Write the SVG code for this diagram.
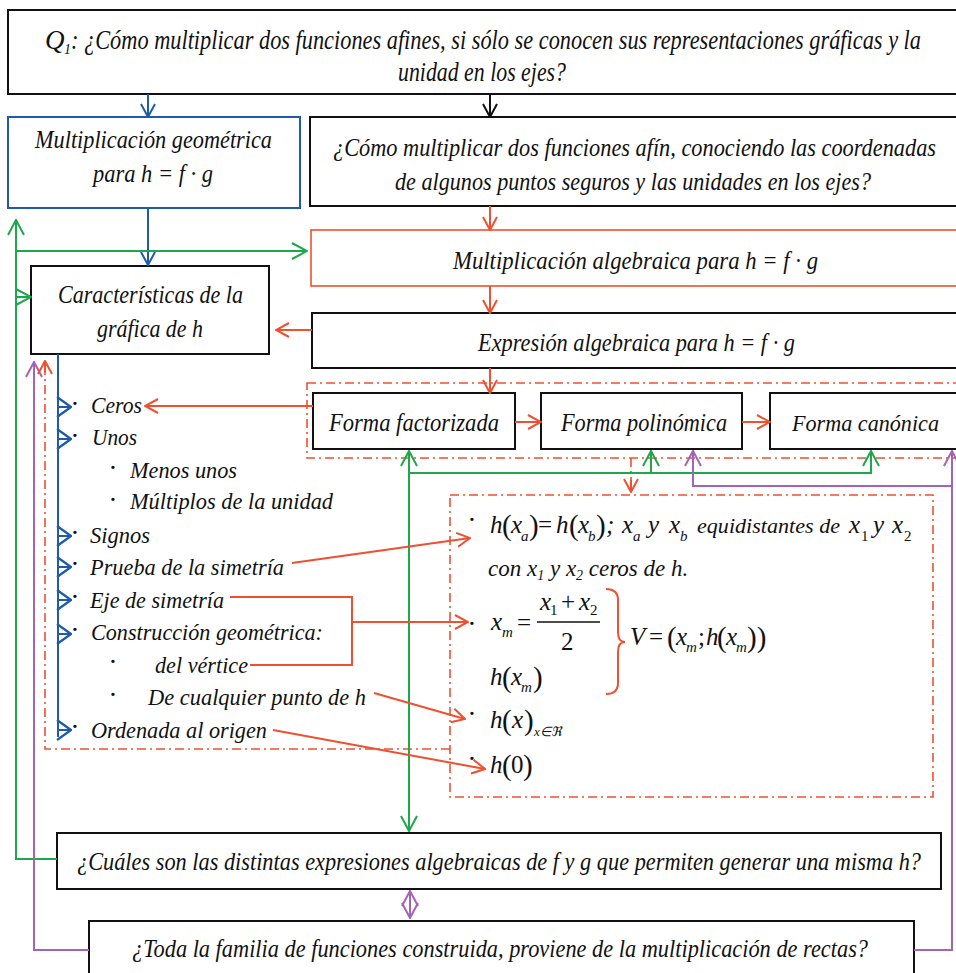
<svg xmlns="http://www.w3.org/2000/svg" width="956" height="973" viewBox="0 0 956 973" font-family="Liberation Serif, serif">
<style>
.t{font-family:'Liberation Serif',serif;font-style:italic;font-size:26px;fill:#111}
.l{font-size:24px}
.m{font-family:'Liberation Serif',serif;font-style:italic;font-size:25px;fill:#111}
.u{font-style:normal}
.s{font-size:15px}
.pa{font-style:normal;font-size:29px}
.bu{font-family:'Liberation Serif',serif;font-size:28px;fill:#111;text-anchor:middle}
.box{fill:#fff;stroke:#111;stroke-width:2}
.c{fill:none;stroke-width:2}
.r{stroke:#ee5030}.g{stroke:#1ca84b}.b{stroke:#1f5bab}.p{stroke:#a464b4}.k{stroke:#111}
.dd{stroke-dasharray:9 4 2 4;stroke-width:1.6}
</style>
<defs>
<marker id="aK" viewBox="0 0 16 16" refX="15" refY="8" markerWidth="16" markerHeight="16" orient="auto-start-reverse" markerUnits="userSpaceOnUse"><path d="M2,1 L15,8 L2,15" fill="none" stroke="#111" stroke-width="2"/></marker>
<marker id="aB" viewBox="0 0 16 16" refX="15" refY="8" markerWidth="16" markerHeight="16" orient="auto-start-reverse" markerUnits="userSpaceOnUse"><path d="M2,1 L15,8 L2,15" fill="none" stroke="#1f5bab" stroke-width="2"/></marker>
<marker id="aB2" viewBox="0 0 16 22" refX="15" refY="11" markerWidth="16" markerHeight="22" orient="auto" markerUnits="userSpaceOnUse"><path d="M1,1 L15,11 L1,21" fill="none" stroke="#1f5bab" stroke-width="2.2"/></marker>
<marker id="aR" viewBox="0 0 16 16" refX="15" refY="8" markerWidth="16" markerHeight="16" orient="auto-start-reverse" markerUnits="userSpaceOnUse"><path d="M2,1 L15,8 L2,15" fill="none" stroke="#ee5030" stroke-width="2"/></marker>
<marker id="aG" viewBox="0 0 18 18" refX="17" refY="9" markerWidth="18" markerHeight="18" orient="auto-start-reverse" markerUnits="userSpaceOnUse"><path d="M2,1 L17,9 L2,17" fill="none" stroke="#1ca84b" stroke-width="2"/></marker>
<marker id="aP" viewBox="0 0 18 18" refX="17" refY="9" markerWidth="18" markerHeight="18" orient="auto-start-reverse" markerUnits="userSpaceOnUse"><path d="M2,1 L17,9 L2,17" fill="none" stroke="#a464b4" stroke-width="2"/></marker>
</defs>
<rect width="956" height="973" fill="#fff"/>

<g id="q1">
<rect class="box" x="8" y="10" width="960" height="84"/>
<text class="t" x="45" y="49" style="font-size:27px">Q</text>
<text class="t" x="64" y="54" style="font-size:14px">1</text>
<text class="t" x="71" y="49" style="font-size:27px" textLength="850" lengthAdjust="spacingAndGlyphs">: ¿Cómo multiplicar dos funciones afines, si sólo se conocen sus representaciones gráficas y la</text>
<text class="t" x="398" y="81" style="font-size:27px" textLength="168" lengthAdjust="spacingAndGlyphs">unidad en los ejes?</text>
</g>

<g id="geo">
<rect x="8" y="117" width="292" height="91" fill="#fff" stroke="#1f5bab" stroke-width="2"/>
<text class="t" x="35" y="148" textLength="237" lengthAdjust="spacingAndGlyphs">Multiplicación geométrica</text>
<text class="t" x="93" y="182" textLength="120" lengthAdjust="spacingAndGlyphs">para h = f · g</text>
</g>

<g id="q2">
<rect class="box" x="310" y="117" width="660" height="89"/>
<text class="t" x="333" y="156" textLength="603" lengthAdjust="spacingAndGlyphs">¿Cómo multiplicar dos funciones afín, conociendo las coordenadas</text>
<text class="t" x="395" y="190" textLength="476" lengthAdjust="spacingAndGlyphs">de algunos puntos seguros y las unidades en los ejes?</text>
</g>

<g id="alg">
<rect x="311" y="230" width="660" height="56" fill="#fff" stroke="#ee5030" stroke-width="1.6"/>
<text class="t" x="453" y="269" textLength="365" lengthAdjust="spacingAndGlyphs">Multiplicación algebraica para  h = f · g</text>
</g>

<g id="car">
<rect class="box" x="31" y="266" width="238" height="88"/>
<text class="t" x="58" y="303" textLength="185" lengthAdjust="spacingAndGlyphs">Características de la</text>
<text class="t" x="97" y="337" textLength="106" lengthAdjust="spacingAndGlyphs">gráfica de h</text>
</g>

<g id="exp">
<rect class="box" x="312" y="313" width="660" height="55"/>
<text class="t" x="478" y="351" textLength="317" lengthAdjust="spacingAndGlyphs">Expresión algebraica para h = f · g</text>
</g>

<g id="formas">
<rect x="307" y="383" width="660" height="75" fill="none" class="r dd"/>
<g id="factorizada">
<rect class="box" x="313" y="393" width="202" height="56"/>
<text class="t" x="329" y="431" textLength="170" lengthAdjust="spacingAndGlyphs">Forma factorizada</text>
</g>
<g id="polinomica">
<rect class="box" x="541" y="393" width="201" height="56"/>
<text class="t" x="561" y="431" textLength="166" lengthAdjust="spacingAndGlyphs">Forma polinómica</text>
</g>
<g id="canonica">
<rect class="box" x="770" y="393" width="200" height="56"/>
<text class="t" x="792" y="431" style="font-size:24px" textLength="147" lengthAdjust="spacingAndGlyphs">Forma canónica</text>
</g>
</g>

<g id="lista">
<text class="bu" x="75" y="413">·</text><text class="t l" x="91" y="413" textLength="51" lengthAdjust="spacingAndGlyphs">Ceros</text>
<text class="bu" x="75" y="445">·</text><text class="t l" x="92" y="445" textLength="45" lengthAdjust="spacingAndGlyphs">Unos</text>
<text class="bu" x="113" y="477">·</text><text class="t l" x="130" y="478" textLength="107" lengthAdjust="spacingAndGlyphs">Menos unos</text>
<text class="bu" x="113" y="509">·</text><text class="t l" x="130" y="509" textLength="203" lengthAdjust="spacingAndGlyphs">Múltiplos de la unidad</text>
<text class="bu" x="75" y="542">·</text><text class="t l" x="90" y="543" textLength="60" lengthAdjust="spacingAndGlyphs">Signos</text>
<text class="bu" x="75" y="573">·</text><text class="t l" x="90" y="575" textLength="194" lengthAdjust="spacingAndGlyphs">Prueba de la simetría</text>
<text class="bu" x="75" y="606">·</text><text class="t l" x="90" y="608" textLength="134" lengthAdjust="spacingAndGlyphs">Eje de simetría</text>
<text class="bu" x="75" y="639">·</text><text class="t l" x="91" y="640" textLength="232" lengthAdjust="spacingAndGlyphs">Construcción geométrica:</text>
<text class="bu" x="113" y="671">·</text><text class="t l" x="155" y="673" textLength="93" lengthAdjust="spacingAndGlyphs">del vértice</text>
<text class="bu" x="113" y="704">·</text><text class="t l" x="148" y="705" textLength="218" lengthAdjust="spacingAndGlyphs">De cualquier punto de h</text>
<text class="bu" x="75" y="736">·</text><text class="t l" x="91" y="738" textLength="176" lengthAdjust="spacingAndGlyphs">Ordenada al origen</text>
</g>

<g id="math">
<rect x="450" y="495" width="483" height="302" fill="none" class="r dd"/>
<text class="bu" x="472" y="529">·</text>
<text class="m" x="490" y="533">h</text>
<text class="m pa" x="502" y="535">(</text>
<text class="m" x="511" y="533">x</text>
<text class="m s" x="521" y="541">a</text>
<text class="m pa" x="529" y="535">)</text>
<text class="m u" x="538" y="533">=</text>
<text class="m" x="556" y="533">h</text>
<text class="m pa" x="569" y="535">(</text>
<text class="m" x="578" y="533">x</text>
<text class="m s" x="588" y="541">b</text>
<text class="m pa" x="596" y="535">)</text>
<text class="m" x="606" y="533">;</text>
<text class="m" x="622" y="533">x</text>
<text class="m s" x="633" y="541">a</text>
<text class="m" x="648" y="533">y</text>
<text class="m" x="669" y="533">x</text>
<text class="m s" x="680" y="541">b</text>
<text class="t" x="697" y="533" style="font-size:22px" textLength="143" lengthAdjust="spacingAndGlyphs">equidistantes de</text>
<text class="m" x="849" y="533">x</text>
<text class="m u s" x="861" y="541">1</text>
<text class="m" x="873" y="533">y</text>
<text class="m" x="892" y="533">x</text>
<text class="m u s" x="904" y="541">2</text>
<text class="t" x="488" y="576" style="font-size:23px">con x<tspan style="font-size:14px" dy="4">1</tspan><tspan dy="-4"> y x</tspan><tspan style="font-size:14px" dy="4">2</tspan><tspan dy="-4"> ceros de h.</tspan></text>

<text class="bu" x="472" y="633">·</text>
<text class="m" x="491" y="630">x</text>
<text class="m s" x="502" y="637">m</text>
<text class="m u" x="517" y="631">=</text>
<text class="m" x="540" y="610">x</text>
<text class="m u s" x="550" y="615">1</text>
<text class="m u" x="561" y="610">+</text>
<text class="m" x="579" y="610">x</text>
<text class="m u s" x="590" y="615">2</text>
<line x1="537" y1="622" x2="600" y2="622" stroke="#111" stroke-width="1.5"/>
<text class="m u" x="561" y="650">2</text>
<path d="M606,589 Q618,589 618,600 L618,632 Q618,642 625,642 Q618,642 618,652 L618,683 Q618,694 606,694" fill="none" stroke="#ee5030" stroke-width="2"/>
<text class="m" x="630" y="645">V</text>
<text class="m u" x="649" y="645">=</text>
<text class="m pa" x="667" y="647">(</text>
<text class="m" x="676" y="645">x</text>
<text class="m s" x="686" y="652">m</text>
<text class="m u" x="698" y="645">;</text>
<text class="m" x="706" y="645">h</text>
<text class="m pa" x="717" y="647">(</text>
<text class="m" x="726" y="645">x</text>
<text class="m s" x="736" y="652">m</text>
<text class="m pa" x="747" y="647">))</text>
<text class="m" x="490" y="685">h</text>
<text class="m pa" x="502" y="687">(</text>
<text class="m" x="511" y="685">x</text>
<text class="m s" x="521" y="692">m</text>
<text class="m pa" x="533" y="687">)</text>

<text class="bu" x="472" y="723">·</text>
<text class="m" x="490" y="728">h</text>
<text class="m pa" x="502" y="730">(</text>
<text class="m" x="512" y="728">x</text>
<text class="m pa" x="524" y="730">)</text>
<text class="m" x="534" y="736" style="font-size:13px">x∈ℜ</text>
<text class="bu" x="472" y="768">·</text>
<text class="m" x="490" y="773">h</text>
<text class="m pa" x="502" y="775">(</text>
<text class="m u" x="511" y="773">0</text>
<text class="m pa" x="523" y="775">)</text>
</g>

<g id="q3">
<rect class="box" x="57" y="833" width="884" height="56"/>
<text class="t" x="77" y="870" textLength="844" lengthAdjust="spacingAndGlyphs">¿Cuáles son las distintas expresiones algebraicas de f y g que permiten generar una misma h?</text>
</g>

<g id="q4">
<rect class="box" x="89" y="921" width="825" height="60"/>
<text class="t" x="132" y="957" textLength="736" lengthAdjust="spacingAndGlyphs">¿Toda la familia de funciones construida, proviene de la multiplicación de rectas?</text>
</g>

<g id="connectors">
<path class="c b" d="M148,94 L148,117" marker-end="url(#aB)"/>
<path class="c k" d="M490,94 L490,117" marker-end="url(#aK)"/>
<path class="c r" d="M490,206 L490,230" marker-end="url(#aR)"/>
<path class="c r" d="M490,286 L490,313" marker-end="url(#aR)"/>
<path class="c r" d="M490,368 L490,393" marker-end="url(#aR)"/>
<path class="c b" d="M148,208 L148,265" marker-end="url(#aB)"/>
<path class="c g" d="M57,859 L16,859 L16,220" marker-end="url(#aG)"/>
<path class="c g" d="M16,251 L307,251" marker-end="url(#aG)"/>
<path class="c g" d="M16,297 L31,297" marker-end="url(#aG)"/>
<path class="c r" d="M312,330 L276,330" marker-end="url(#aR)"/>
<path class="c r" d="M515,422 L541,422" marker-end="url(#aR)"/>
<path class="c r" d="M742,422 L770,422" marker-end="url(#aR)"/>
<path class="c r" d="M313,406 L145,406" marker-end="url(#aR)"/>
<path class="c b" d="M58,354 L58,737"/>
<path class="c b" d="M58,407 L71,407" marker-end="url(#aB2)"/>
<path class="c b" d="M58,439 L71,439" marker-end="url(#aB2)"/>
<path class="c b" d="M58,536 L71,536" marker-end="url(#aB2)"/>
<path class="c b" d="M58,567 L71,567" marker-end="url(#aB2)"/>
<path class="c b" d="M58,600 L71,600" marker-end="url(#aB2)"/>
<path class="c b" d="M58,634 L71,634" marker-end="url(#aB2)"/>
<path class="c b" d="M58,730 L71,730" marker-end="url(#aB2)"/>
<path class="c p" d="M89,950 L34,950 L34,362" marker-end="url(#aP)"/>
<path class="c r dd" d="M450,749 L45,749 L45,362"/>
<path class="c r" d="M45,372 L45,361" marker-end="url(#aR)"/>
<path class="c r dd" d="M631,458 L631,490"/>
<path class="c r" d="M631,480 L631,492" marker-end="url(#aR)"/>
<path class="c g" d="M409,473 L409,451" marker-end="url(#aG)"/>
<path class="c g" d="M409,473 L409,831" marker-end="url(#aG)"/>
<path class="c g" d="M409,473 L871,473 L871,451" marker-end="url(#aG)"/>
<path class="c g" d="M651,473 L651,451" marker-end="url(#aG)"/>
<path class="c p" d="M952,486 L693,486 L693,451" marker-end="url(#aP)"/>
<path class="c p" d="M914,950 L952,950 L952,451" marker-end="url(#aP)"/>
<path class="c p" d="M410,891 L410,918" marker-start="url(#aP)" marker-end="url(#aP)"/>
<path class="c r" d="M292,563 L470,538" marker-end="url(#aR)"/>
<path class="c r" d="M230,597 L352,597 L352,665 L250,665"/>
<path class="c r" d="M352,622 L468,622" marker-end="url(#aR)"/>
<path class="c r" d="M374,693 L465,719" marker-end="url(#aR)"/>
<path class="c r" d="M273,730 L485,769" marker-end="url(#aR)"/>
</g>
</svg>
